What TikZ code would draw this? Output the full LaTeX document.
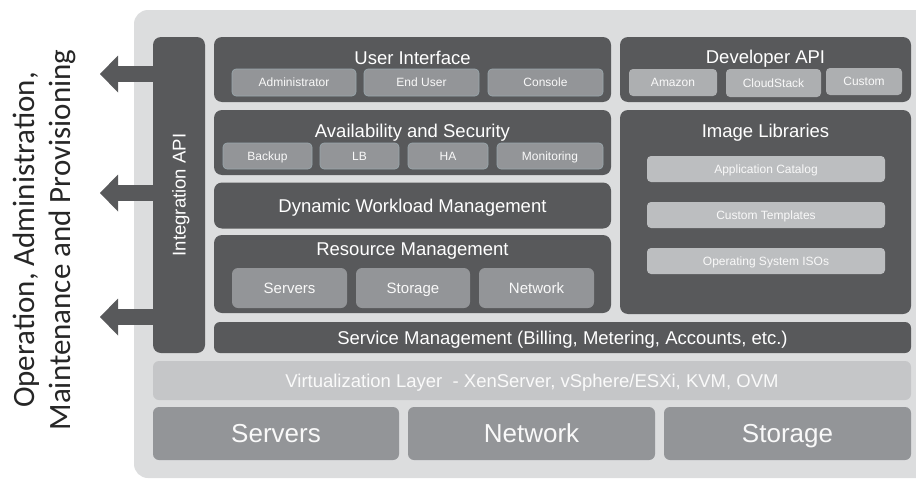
\documentclass[tikz,border=0pt]{standalone}
\usepackage{fontspec}
\setmainfont{Liberation Sans}
\newfontfamily\sidefont{Carlito}
\usetikzlibrary{arrows.meta, positioning}

\definecolor{darkbox}{HTML}{58595B}
\definecolor{backgr}{HTML}{DCDDDE}
\definecolor{midbox}{HTML}{939598}
\definecolor{lightbox}{HTML}{BCBEC0}
\definecolor{virtbox}{HTML}{C5C6C8}
\definecolor{subedge}{HTML}{9AA8AE}

\begin{document}
\begin{tikzpicture} [x=1pt, y=-1pt,
layer/.style={fill=darkbox, rounded corners=8pt, inner sep=0pt, text=white,
  text height=13.3pt, text depth=0pt, font=\fontsize{18.5}{20}\selectfont},
title/.style={text=white, inner sep=0pt, anchor=base, font=\fontsize{18.5}{20}\selectfont},
subbox/.style={fill=midbox, draw=subedge, line width=0.6pt, rounded corners=4pt,
  inner sep=0pt, text=white!95!gray, text height=8.6pt, text depth=0pt,
  font=\fontsize{12}{14}\selectfont},
litebox/.style={subbox, fill=lightbox, draw=none},
resbox/.style={subbox, draw=none, rounded corners=6pt, text height=10.8pt,
  font=\fontsize{15}{17}\selectfont},
hwbox/.style={resbox, text height=18.7pt, font=\fontsize{26}{30}\selectfont},
sidetext/.style={rotate=90, align=center, text=black!85,
  font=\sidefont\fontsize{31}{36}\selectfont},
outarrow/.style={draw=darkbox, line width=16pt,
  -{Triangle[length=18pt, width=37pt, line width=0pt]}}]
%    background

\useasboundingbox (0,0) rectangle (916,479);
\fill[backgr, rounded corners=14pt] (134,10) rectangle (940,478);

\node[sidetext] (oamp) at (44,240)
  {Operation, Administration,\\Maintenance and Provisioning};

% integration column and arrows
\node[layer, minimum width=52pt, minimum height=316pt] (intapi) at (179,195) {};
\node[title, anchor=center, rotate=90, text height=13.3pt, text depth=0pt] (intapiT) at (intapi.center) {Integration API};

\coordinate (tipA) at (100,74);
\coordinate (tipB) at (100,193);
\coordinate (tipC) at (100,317);
\draw[outarrow] (intapi.west |- tipA) -- (tipA);
\draw[outarrow] (intapi.west |- tipB) -- (tipB);
\draw[outarrow] (intapi.west |- tipC) -- (tipC);

% user interface
\node[layer, minimum width=397pt, minimum height=65pt] (ui) at (412.5,69.5) {};
\node[title] (uiT) at (412.5,64.5) {User Interface};
\node[subbox, minimum width=124pt, minimum height=27pt] (admin) at (294,82.5) {Administrator};
\node[subbox, minimum width=115pt, minimum height=27pt] (enduser) at (421.5,82.5) {End User};
\node[subbox, minimum width=115pt, minimum height=27pt] (console) at (545.5,82.5) {Console};

% availability and security
\node[layer, minimum width=397pt, minimum height=65pt] (avail) at (412.5,142.5) {};
\node[title] (availT) at (412.5,137) {Availability and Security};
\node[subbox, minimum width=89pt, minimum height=26pt] (backup) at (267.5,156) {Backup};
\node[subbox, minimum width=79pt, minimum height=26pt] (lb) at (359.5,156) {LB};
\node[subbox, minimum width=80pt, minimum height=26pt] (ha) at (448,156) {HA};
\node[subbox, minimum width=106pt, minimum height=26pt] (monitor) at (550,156) {Monitoring};

\node[layer, minimum width=397pt, minimum height=46pt] (dwm) at (412.5,205.5) {Dynamic Workload Management};

% resource management
\node[layer, minimum width=397pt, minimum height=78pt] (res) at (412.5,274) {};
\node[title] (resT) at (412.5,255.5) {Resource Management};
\node[resbox, minimum width=115pt, minimum height=40pt] (resserv) at (289.5,288) {Servers};
\node[resbox, minimum width=114pt, minimum height=40pt] (resstor) at (413,288) {Storage};
\node[resbox, minimum width=115pt, minimum height=40pt] (resnet) at (536.5,288) {Network};

% developer api
\node[layer, minimum width=291pt, minimum height=65pt] (dev) at (765.5,69.5) {};
\node[title] (devT) at (765.5,63.5) {Developer API};
\node[litebox, fill=lightbox!92!black, minimum width=88pt, minimum height=27pt] (amazon) at (673,82.5) {Amazon};
\node[litebox, fill=lightbox!92!black, minimum width=95pt, minimum height=28pt] (cstack) at (773.5,83) {CloudStack};
\node[litebox, fill=lightbox!92!black, minimum width=76pt, minimum height=27pt] (custom) at (864,81.5) {Custom};

% image libraries
\node[layer, minimum width=291pt, minimum height=204pt] (img) at (765.5,212) {};
\node[title] (imgT) at (765.5,137) {Image Libraries};
\node[litebox, minimum width=238pt, minimum height=26pt] (appcat) at (766,169) {Application Catalog};
\node[litebox, minimum width=238pt, minimum height=26pt] (templ) at (766,215) {Custom Templates};
\node[litebox, minimum width=238pt, minimum height=26pt] (osiso) at (766,261) {Operating System ISOs};

% lower layers
\node[layer, rounded corners=6pt, minimum width=697pt, minimum height=31pt] (svc) at (562.5,337.5)
  {Service Management (Billing, Metering, Accounts, etc.)};
\node[layer, fill=virtbox, text=white!96!gray, rounded corners=6pt, minimum width=758pt, minimum height=39pt] (virt) at (532,380.5)
  {Virtualization Layer\ \ - XenServer, vSphere/ESXi, KVM, OVM};
\node[hwbox, minimum width=246pt, minimum height=53pt] (hwserv) at (276,433.5) {Servers};
\node[hwbox, minimum width=247pt, minimum height=53pt] (hwnet) at (531.5,433.5) {Network};
\node[hwbox, minimum width=247pt, minimum height=53pt] (hwstor) at (787.5,433.5) {Storage};

\end{tikzpicture}
\end{document}
